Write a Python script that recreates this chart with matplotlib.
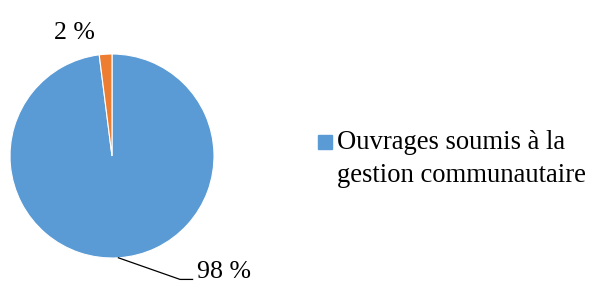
import numpy as np
import matplotlib
matplotlib.use('Agg')
import matplotlib.pyplot as plt
from matplotlib.patches import Rectangle

labels = ['Ouvrages soumis à la\ngestion communautaire', 'Autres']
values = [98, 2]
pct_labels = ['98 %', '2 %']
colors = ['#5B9BD5', '#ED7D31']

plt.rcParams['font.family'] = ['Liberation Serif', 'DejaVu Serif']

W, H = 589, 282
fig = plt.figure(figsize=(W / 100, H / 100), dpi=100)
# pie box: centre (112,156), radius 102 px
ax = fig.add_axes([10 / W, (H - 258) / H, 204 / W, 204 / H])
wedges, _ = ax.pie(values, colors=colors, startangle=90, counterclock=False,
                   wedgeprops=dict(edgecolor='white', linewidth=0.8))
ax.set_xlim(-1, 1)
ax.set_ylim(-1, 1)
ax.set_aspect('equal')
ax.axis('off')

# label for the big slice with leader line
w = wedges[0]
mid = np.deg2rad((w.theta1 + w.theta2) / 2)
x0, y0 = np.cos(mid), np.sin(mid)
ax.plot([x0, 0.667, 0.79], [y0, -1.21, -1.21], color='black', lw=0.9,
        clip_on=False)
ax.text(0.83, -1.135, pct_labels[0], fontsize=18.6, ha='left', va='center')

# label for the small slice
ax.text(-0.37, 1.21, pct_labels[1], fontsize=18.6, ha='center', va='center')

# legend (only the big slice), drawn by hand so the square sits on line 1
fig.patches.append(Rectangle((318 / W, 1 - 149 / H), 14 / W, 14 / H,
                             transform=fig.transFigure, color=colors[0]))
fig.text(337 / W, 1 - 130 / H, labels[0], fontsize=19.2, ha='left', va='top',
         linespacing=1.4)

fig.savefig('out.png', dpi=100)
